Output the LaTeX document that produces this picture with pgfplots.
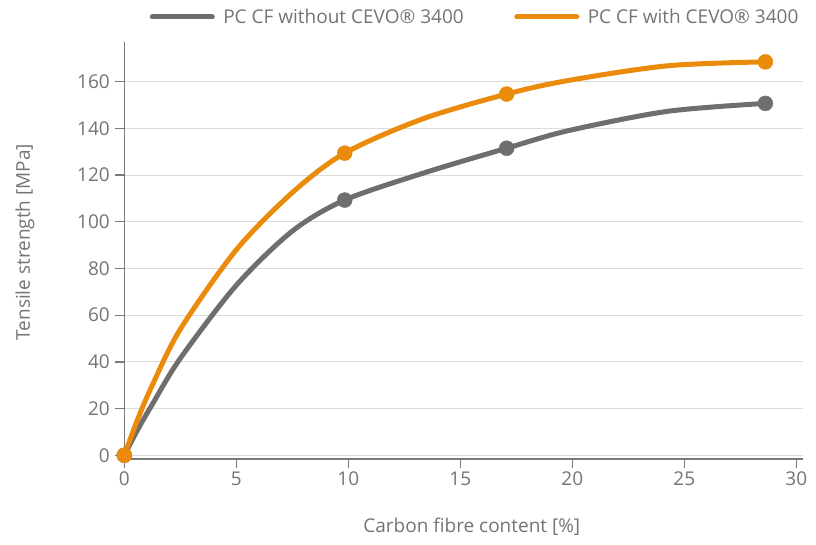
\documentclass[border=0pt]{standalone}
\usepackage{fontspec}
\setmainfont{Open Sans}
\usepackage{pgfplots}
\pgfplotsset{compat=1.18}
\definecolor{cgray}{HTML}{6E6E6E}
\definecolor{corange}{HTML}{EA8B0C}
\definecolor{ctext}{HTML}{747474}
\definecolor{caxis}{HTML}{7A7A7A}
\definecolor{cgrid}{HTML}{DCDCDC}
\begin{document}
\begin{tikzpicture}
\useasboundingbox (-124.3pt,-85pt) rectangle (691.7pt,459pt);
\begin{axis}[
  scale only axis, width=678.7pt, height=417pt,
  xmin=0, xmax=30.3, ymin=-1.6, ymax=177,
  axis lines=left,
  axis line style={-, caxis, line width=1.5pt},
  tick align=outside,
  major tick length=9pt,
  tick style={caxis, line width=1.3pt},
  xtick={0,5,...,30}, ytick={0,20,...,160},
  ymajorgrids, grid style={cgrid, line width=1pt},
  font=\fontsize{19}{22}\selectfont,
  tick label style={ctext, font=\fontsize{19}{22}\selectfont},
  yticklabel style={xshift=-2pt},
  /pgf/number format/assume math mode=true,
  label style={ctext},
  xlabel={Carbon fibre content [\%]},
  ylabel={Tensile strength [MPa]},
  xlabel style={at={(axis description cs:0.512,-0.163)}, anchor=center},
  ylabel style={at={(axis description cs:-0.1463,0.52)}, anchor=center},
  legend columns=2,
  legend cell align=left,
  legend style={draw=none, fill=none, text=ctext,
    at={(axis description cs:0.515,1.06)}, anchor=center,
    font=\fontsize{19}{22}\selectfont,
    /tikz/every even column/.append style={column sep=46pt}},
  legend image code/.code={\path (0pt,0pt) (69pt,0pt);
    \draw[#1, line width=5pt, line cap=round] (2.5pt,0pt) -- (62.5pt,0pt);},
]
\addplot[cgray, line width=5pt, smooth] coordinates {
 (0,0) (0.6,11) (1.25,21.8) (2.5,41.5) (5,72.8) (7.5,96) (9.84,109.3)
 (13.4,121) (17.07,131.5) (19.81,139) (24.25,147.3) (28.62,150.7)};
\addlegendentry{PC CF without CEVO® 3400}
\addplot[corange, line width=5pt, smooth] coordinates {
 (0,0) (0.6,15.5) (1.25,30) (2.5,54) (5,88) (7.5,112.5) (9.84,129.4)
 (13.3,144) (17.07,154.7) (19.81,160.5) (24.25,166.8) (28.62,168.5)};
\addlegendentry{PC CF with CEVO® 3400}
\addplot[cgray, only marks, mark=*, mark size=7.5pt, forget plot] coordinates {
 (0,0) (9.84,109.3) (17.07,131.5) (28.62,150.7)};
\addplot[corange, only marks, mark=*, mark size=7.5pt, forget plot] coordinates {
 (0,0) (9.84,129.4) (17.07,154.7) (28.62,168.5)};
\end{axis}
\end{tikzpicture}
\end{document}
